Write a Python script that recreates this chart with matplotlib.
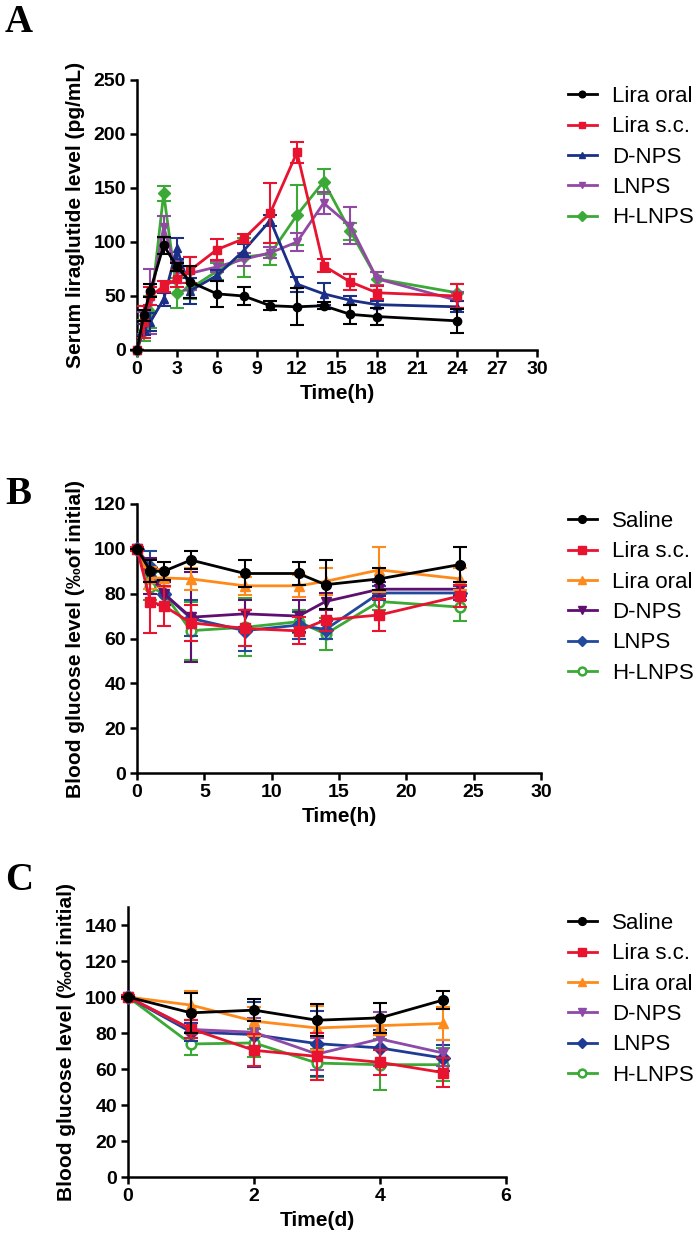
import matplotlib
matplotlib.use('Agg')
import matplotlib.pyplot as plt

plt.rcParams['font.family'] = ['Liberation Sans', 'DejaVu Sans']

# ---- Panel A: serum liraglutide (pg/mL) ----
a_time = [0, 0.5, 1, 2, 3, 4, 6, 8, 10, 12, 14, 16, 18, 24]
a_labels = ['Lira oral', 'Lira s.c.', 'D-NPS', 'LNPS', 'H-LNPS']
a_oral = [0, 32, 55, 97, 77, 63, 52, 50, 41, 40, 41, 33, 31, 27]
a_oral_err = [0, 5, 6, 8, 4, 15, 12, 8, 4, 17, 3, 9, 8, 11]
a_sc = [0, 26, 50, 59, 66, 74, 93, 103, 127, 183, 78, 63, 53, 50]
a_sc_err = [0, 15, 8, 5, 8, 12, 10, 4, 28, 10, 6, 7, 6, 11]
a_dnps = [0, 19, 26, 47, 94, 55, 69, 92, 120, 61, 52, 46, 42, 40]
a_dnps_err = [0, 5, 8, 6, 10, 12, 5, 6, 5, 7, 10, 4, 3, 5]
a_lnps = [0, 25, 45, 114, 72, 71, 77, 84, 90, 100, 136, 115, 66, 46]
a_lnps_err = [0, 10, 30, 10, 10, 15, 5, 6, 5, 8, 10, 17, 6, 8]
a_hlnps = [0, 18, 35, 145, 53, 57, 73, 86, 89, 125, 156, 110, 66, 53]
a_hlnps_err = [0, 10, 15, 7, 14, 10, 8, 18, 10, 28, 12, 8, 6, 8]

# ---- Panel B: blood glucose over hours ----
b_time = [0, 1, 2, 4, 8, 12, 14, 18, 24]
b_labels = ['Saline', 'Lira s.c.', 'Lira oral', 'D-NPS', 'LNPS', 'H-LNPS']
b_saline = [100, 90, 90, 95, 89, 89, 84, 86.6, 93]
b_saline_err = [0, 5, 4, 4, 6, 5, 11, 5, 8]
b_sc = [100, 76.5, 74.5, 67, 64.5, 63.4, 68.3, 70.5, 79]
b_sc_err = [1, 14, 9, 8, 8, 6, 5, 7, 5]
b_oral = [100, 87, 87, 86.6, 83.5, 83.5, 85.5, 90.6, 86.6]
b_oral_err = [0, 5, 4, 5, 4, 5, 6, 10, 5]
b_dnps = [100, 88, 80, 69.5, 71, 70, 76.5, 82, 82]
b_dnps_err = [0, 8, 5, 20, 6, 7, 4, 3, 3]
b_lnps = [100, 92, 80, 69, 63.5, 66, 64, 80.3, 80.3]
b_lnps_err = [0, 7, 5, 8, 9, 6, 4, 3, 3]
b_hlnps = [100, 83, 80, 63.5, 65, 67.5, 62, 76.5, 74]
b_hlnps_err = [0, 6, 5, 13, 13, 5, 7, 4, 6]

# ---- Panel C: blood glucose over days ----
c_time = [0, 1, 2, 3, 4, 5]
c_labels = ['Saline', 'Lira s.c.', 'Lira oral', 'D-NPS', 'LNPS', 'H-LNPS']
c_saline = [100, 91.2, 92.7, 87.1, 88.4, 98.3]
c_saline_err = [0, 11, 6, 9, 8.5, 5]
c_sc = [100, 82.3, 70.4, 67, 63.7, 58]
c_sc_err = [1, 5, 9, 13, 7, 8]
c_oral = [100, 95.5, 86.6, 82.8, 84.1, 85.3]
c_oral_err = [0, 8, 8, 12, 5, 9]
c_dnps = [100, 82, 80.4, 68.3, 76.7, 68.9]
c_dnps_err = [0, 5, 8, 9, 15, 7]
c_lnps = [100, 80.6, 79.1, 74.1, 71.7, 66.1]
c_lnps_err = [0, 5, 18, 18, 10, 7]
c_hlnps = [100, 73.9, 74.5, 63.3, 62.4, 62.4]
c_hlnps_err = [0, 6, 8, 8, 14, 9]

# colours / markers
black = '#000000'
red = '#e8132f'
navy = '#1b2f86'
purple_a = '#9249a3'
green = '#3aa935'
orange = '#ff8a1c'
purple_b = '#5e0f70'
blue_b = '#21499c'
purple_c = '#8d4aa8'
blue_c = '#1f3c94'

fig = plt.figure(figsize=(7, 12.46), dpi=100)


def style_axes(ax):
    for s in ['top', 'right']:
        ax.spines[s].set_visible(False)
    for s in ['left', 'bottom']:
        ax.spines[s].set_linewidth(1.8)
    ax.tick_params(direction='out', length=5, width=1.8, labelsize=14, pad=3)
    for lab in ax.get_xticklabels() + ax.get_yticklabels():
        lab.set_fontweight('bold')


def draw(ax, x, series, ms):
    # series: list of (y, err, color, marker, label, filled)
    n = len(series)
    for i, (y, err, col, mk, lab, filled) in enumerate(series):
        z = 10 + (n - i)
        ax.errorbar(x, y, yerr=err, fmt='none', ecolor=col, elinewidth=1.5,
                    capsize=5, capthick=1.5, zorder=z, clip_on=False)
        ax.plot(x, y, color=col, lw=2, marker=mk, ms=ms,
                mfc=col if filled else 'white', mec=col, mew=1.8 if not filled else 1,
                label=lab, zorder=z + 0.5, clip_on=False)


# Panel A
axA = fig.add_axes([137 / 700, 1 - 350 / 1246, 400 / 700, 270 / 1246])
draw(axA, a_time, [
    (a_oral, a_oral_err, black, 'o', a_labels[0], True),
    (a_sc, a_sc_err, red, 's', a_labels[1], True),
    (a_dnps, a_dnps_err, navy, '^', a_labels[2], True),
    (a_lnps, a_lnps_err, purple_a, 'v', a_labels[3], True),
    (a_hlnps, a_hlnps_err, green, 'D', a_labels[4], True),
], ms=6)
axA.set_xlim(0, 30)
axA.set_ylim(0, 250)
axA.set_xticks(range(0, 31, 3))
axA.set_yticks(range(0, 251, 50))
style_axes(axA)
axA.set_xlabel('Time(h)', fontsize=15, fontweight='bold', labelpad=4)
axA.set_ylabel('Serum liraglutide level (pg/mL)', fontsize=15, fontweight='bold', labelpad=6)

# Panel B
axB = fig.add_axes([137 / 700, 1 - 773 / 1246, 404 / 700, 269 / 1246])
draw(axB, b_time, [
    (b_saline, b_saline_err, black, 'o', b_labels[0], True),
    (b_sc, b_sc_err, red, 's', b_labels[1], True),
    (b_oral, b_oral_err, orange, '^', b_labels[2], True),
    (b_dnps, b_dnps_err, purple_b, 'v', b_labels[3], True),
    (b_lnps, b_lnps_err, blue_b, 'D', b_labels[4], True),
    (b_hlnps, b_hlnps_err, green, 'o', b_labels[5], False),
], ms=7)
axB.set_xlim(0, 30)
axB.set_ylim(0, 120)
axB.set_xticks(range(0, 31, 5))
axB.set_yticks(range(0, 121, 20))
style_axes(axB)
axB.set_xlabel('Time(h)', fontsize=15, fontweight='bold', labelpad=4)
axB.set_ylabel('Blood glucose level (‰of initial)', fontsize=15, fontweight='bold', labelpad=6)

# Panel C
axC = fig.add_axes([128 / 700, 1 - 1177 / 1246, 378 / 700, 270 / 1246])
draw(axC, c_time, [
    (c_saline, c_saline_err, black, 'o', c_labels[0], True),
    (c_sc, c_sc_err, red, 's', c_labels[1], True),
    (c_oral, c_oral_err, orange, '^', c_labels[2], True),
    (c_dnps, c_dnps_err, purple_c, 'v', c_labels[3], True),
    (c_lnps, c_lnps_err, blue_c, 'D', c_labels[4], True),
    (c_hlnps, c_hlnps_err, green, 'o', c_labels[5], False),
], ms=7)
axC.set_xlim(0, 6)
axC.set_ylim(0, 150)
axC.set_xticks(range(0, 7, 2))
axC.set_yticks(range(0, 141, 20))
style_axes(axC)
axC.set_xlabel('Time(d)', fontsize=15, fontweight='bold', labelpad=4)
axC.set_ylabel('Blood glucose level (‰of initial)', fontsize=15, fontweight='bold', labelpad=6)

# legends
for ax, top in [(axA, 86), (axB, 511), (axC, 913)]:
    h, l = ax.get_legend_handles_labels()
    fig.legend(h, l, loc='upper left', bbox_to_anchor=(568 / 700, 1 - top / 1246),
               frameon=False, fontsize=16, handlelength=1.3, handletextpad=0.7,
               labelspacing=0.42, borderpad=0, borderaxespad=0, markerscale=0.8)

# panel letters
for letter, y in [('A', 22), ('B', 495), ('C', 880)]:
    fig.text(5 / 700, 1 - y / 1246, letter, fontsize=28, fontweight='bold',
             family='Liberation Serif', ha='left', va='center')

fig.savefig('out.png', dpi=100)
